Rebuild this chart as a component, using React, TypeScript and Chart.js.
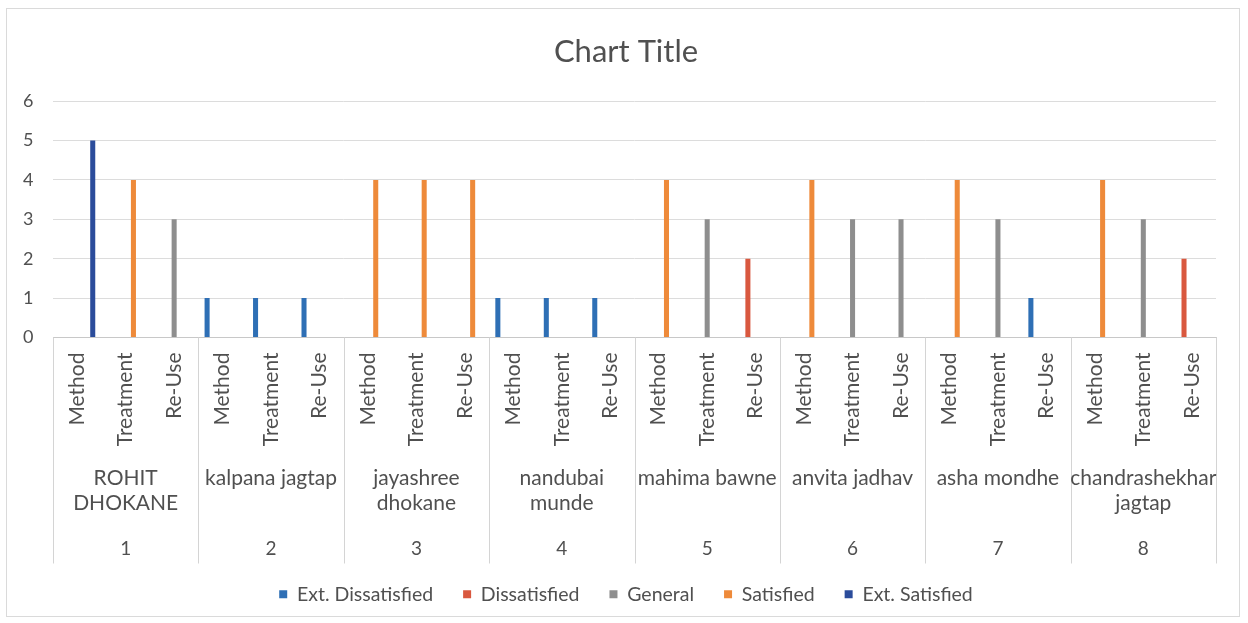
import { useEffect, useRef } from 'react';
import { Chart, registerables } from 'chart.js';

Chart.register(...registerables);

const itemLabels = ['Method', 'Treatment', 'Re-Use'];
const personLabels = [
  ['ROHIT', 'DHOKANE'],
  ['kalpana jagtap'],
  ['jayashree', 'dhokane'],
  ['nandubai', 'munde'],
  ['mahima bawne'],
  ['anvita jadhav'],
  ['asha mondhe'],
  ['chandrashekhar', 'jagtap'],
];
const personNumbers = ['1', '2', '3', '4', '5', '6', '7', '8'];

const extDissatisfied = [null, null, null, 1, 1, 1, null, null, null, 1, 1, 1, null, null, null, null, null, null, null, null, 1, null, null, null];
const dissatisfied = [null, null, null, null, null, null, null, null, null, null, null, null, null, null, 2, null, null, null, null, null, null, null, null, 2];
const general = [null, null, 3, null, null, null, null, null, null, null, null, null, null, 3, null, null, 3, 3, null, 3, null, null, 3, null];
const satisfied = [null, 4, null, null, null, null, 4, 4, 4, null, null, null, 4, null, null, 4, null, null, 4, null, null, 4, null, null];
const extSatisfied = [5, null, null, null, null, null, null, null, null, null, null, null, null, null, null, null, null, null, null, null, null, null, null, null];

const seriesNames = ['Ext. Dissatisfied', 'Dissatisfied', 'General', 'Satisfied', 'Ext. Satisfied'];
const seriesColors = ['#2E6FB5', '#D9583F', '#8E8E8E', '#EE8A3A', '#2B4C9B'];

const categories = personNumbers.flatMap(() => itemLabels);

const FONT = 'Lato, "Open Sans", sans-serif';
const TEXT = '#505050';

const groupAxisPlugin = {
  id: 'groupAxis',
  afterDraw(chart: any) {
    const x = chart.scales.x;
    const ctx = chart.ctx;
    const per = itemLabels.length;
    const n = personLabels.length;
    const step = (x.right - x.left) / (n * per);
    const top = x.top;
    ctx.save();
    ctx.strokeStyle = '#d4d4d4';
    ctx.lineWidth = 1;
    for (let g = 0; g <= n; g++) {
      const px = Math.round(x.left + g * per * step) + 0.5;
      ctx.beginPath();
      ctx.moveTo(px, top);
      ctx.lineTo(px, top + 226);
      ctx.stroke();
    }
    ctx.fillStyle = TEXT;
    ctx.textAlign = 'center';
    ctx.textBaseline = 'middle';
    ctx.font = `21px ${FONT}`;
    for (let g = 0; g < n; g++) {
      const cx = x.getPixelForValue(g * per + 1);
      personLabels[g].forEach((line, i) => {
        ctx.fillText(line, cx, top + 141 + i * 25);
      });
    }
    ctx.font = `19px ${FONT}`;
    for (let g = 0; g < n; g++) {
      const cx = x.getPixelForValue(g * per + 1);
      ctx.fillText(personNumbers[g], cx, top + 211);
    }
    ctx.restore();
  },
};

export default function App() {
  const ref = useRef<HTMLCanvasElement>(null);
  useEffect(() => {
    if (!ref.current) return;
    const data = [extDissatisfied, dissatisfied, general, satisfied, extSatisfied];
    const chart = new Chart(ref.current, {
      type: 'bar',
      data: {
        labels: categories,
        datasets: seriesNames.map((name, i) => ({
          label: name,
          data: data[i],
          backgroundColor: seriesColors[i],
          borderWidth: 0,
          categoryPercentage: 0.8,
          barPercentage: 0.65,
        })),
      },
      options: {
        animation: false,
        responsive: true,
        maintainAspectRatio: false,
        layout: { padding: { top: 0, left: 36, right: 32, bottom: 9 } },
        plugins: {
          title: {
            display: true,
            text: 'Chart Title',
            color: '#505050',
            font: { family: FONT, size: 31, weight: 'normal' },
            padding: { top: 33, bottom: 31 },
          },
          legend: {
            position: 'bottom',
            labels: {
              color: TEXT,
              font: { family: FONT, size: 19.5 },
              boxWidth: 8,
              boxHeight: 8,
              padding: 30,
            },
          },
          tooltip: { enabled: false },
        },
        scales: {
          x: {
            grid: { display: false, drawTicks: false },
            border: { display: true, color: '#c8c8c8' },
            ticks: {
              color: TEXT,
              font: { family: FONT, size: 21 },
              minRotation: 90,
              maxRotation: 90,
              autoSkip: false,
              padding: 15,
            },
            afterFit(scale: any) {
              scale.height = 217;
            },
          },
          y: {
            min: 0,
            max: 6,
            grid: { color: '#dcdcdc', drawTicks: false },
            border: { display: false },
            ticks: {
              stepSize: 1,
              color: TEXT,
              font: { family: FONT, size: 18 },
              mirror: true,
              padding: -30,
            },
            afterFit(scale: any) {
              scale.width = 17;
            },
          },
        },
      },
      plugins: [groupAxisPlugin],
    });
    return () => chart.destroy();
  }, []);

  return (
    <div style={{ position: 'fixed', left: 0, top: 0, width: 1248, height: 623, background: '#fff' }}>
      <div
        style={{
          position: 'absolute',
          left: 6,
          top: 8,
          width: 1234,
          height: 609,
          border: '1px solid #dadada',
          boxSizing: 'border-box',
          pointerEvents: 'none',
        }}
      />
      <canvas ref={ref} style={{ position: 'absolute', left: 0, top: 0, width: 1248, height: 623 }} />
    </div>
  );
}
